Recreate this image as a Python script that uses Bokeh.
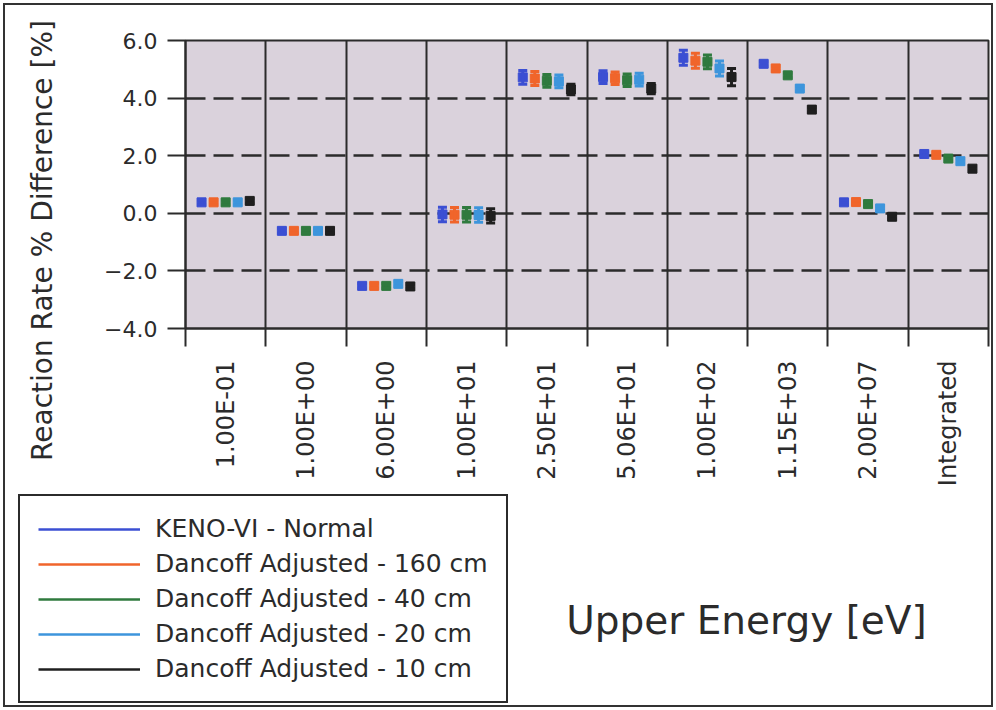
import math

from bokeh.embed import file_html
from bokeh.layouts import column, row
from bokeh.models import (ColumnDataSource, FixedTicker, Label, Legend,
                          LegendItem, TeeHead, Whisker)
from bokeh.plotting import figure
from bokeh.resources import INLINE

# Upper energy of each group (last entry: integrated over all energies)
categories = ["1.00E-01", "1.00E+00", "6.00E+00", "1.00E+01", "2.50E+01",
              "5.06E+01", "1.00E+02", "1.15E+03", "2.00E+07", "Integrated"]

series_names = ["KENO-VI - Normal", "Dancoff Adjusted - 160 cm",
                "Dancoff Adjusted - 40 cm", "Dancoff Adjusted - 20 cm",
                "Dancoff Adjusted - 10 cm"]

# Reaction rate % difference per energy group
keno_normal = [0.38, -0.61, -2.52, -0.04, 4.72, 4.73, 5.40, 5.19, 0.38, 2.06]
dancoff_160 = [0.38, -0.61, -2.52, -0.05, 4.68, 4.69, 5.30, 5.03, 0.39, 2.03]
dancoff_40 = [0.38, -0.61, -2.52, -0.05, 4.60, 4.62, 5.26, 4.79, 0.32, 1.90]
dancoff_20 = [0.38, -0.61, -2.45, -0.06, 4.58, 4.64, 5.03, 4.33, 0.17, 1.81]
dancoff_10 = [0.43, -0.61, -2.54, -0.09, 4.30, 4.33, 4.73, 3.60, -0.12, 1.55]

# One-sigma uncertainties (%)
keno_normal_err = [0.08, 0.08, 0.08, 0.25, 0.24, 0.22, 0.26, 0.08, 0.08, 0.08]
dancoff_160_err = [0.08, 0.08, 0.08, 0.25, 0.24, 0.22, 0.26, 0.08, 0.08, 0.08]
dancoff_40_err = [0.08, 0.08, 0.08, 0.25, 0.22, 0.22, 0.24, 0.08, 0.08, 0.08]
dancoff_20_err = [0.08, 0.08, 0.08, 0.25, 0.22, 0.22, 0.26, 0.08, 0.08, 0.08]
dancoff_10_err = [0.08, 0.08, 0.08, 0.25, 0.18, 0.18, 0.30, 0.08, 0.08, 0.08]

y_ticks = [-4, -2, 0, 2, 4, 6]
y_tick_labels = ["\u22124.0", "\u22122.0", "0.0", "2.0", "4.0", "6.0"]

series_values = [keno_normal, dancoff_160, dancoff_40, dancoff_20, dancoff_10]
series_errors = [keno_normal_err, dancoff_160_err, dancoff_40_err,
                 dancoff_20_err, dancoff_10_err]
colors = ["#3b4fd3", "#f0652b", "#2f7a3e", "#3d95dc", "#1f1f1f"]

FONT = "DejaVu Sans"
INK = "#2b2b2b"

# page grid: a narrow strip for the y title, the chart, and a bottom band
# holding the legend and the x title
W, H = 996, 710
LEFT_W = 70
TOP_H = 493
LEG_W = 520


def blank(width, height):
    """A figure whose frame fills it entirely and has no axes or grid."""
    f = figure(width=width, height=height, x_range=(0, width),
               y_range=(0, height), output_backend="svg",
               toolbar_location=None, title=None, min_border=0,
               x_axis_location=None, y_axis_location=None,
               outline_line_color=None, background_fill_alpha=0,
               border_fill_alpha=0, frame_align=False)
    f.grid.visible = False
    return f


n = len(categories)
centers = [i + 0.5 for i in range(n)]
bounds = list(range(n + 1))

p = figure(width=W - LEFT_W, height=TOP_H, x_range=(0, n),
           y_range=(y_ticks[0], y_ticks[-1]),
           output_backend="svg", toolbar_location=None, title=None,
           min_border_left=185 - LEFT_W, min_border_right=8, min_border_top=40,
           min_border_bottom=TOP_H - 328, frame_align=False,
           background_fill_color="#dad2dc", border_fill_alpha=0,
           outline_line_color=INK, outline_line_width=2)

# x axis: labels centred in each group, tick marks on the group boundaries
xa = p.xaxis[0]
xa.ticker = FixedTicker(ticks=centers, minor_ticks=bounds)
xa.major_label_overrides = {c: lab for c, lab in zip(centers, categories)}
xa.major_tick_out = 0
xa.major_tick_in = 0
xa.minor_tick_out = 18
xa.minor_tick_in = 0
xa.minor_tick_line_width = 2
xa.minor_tick_line_color = INK
xa.major_label_orientation = math.pi / 2
xa.major_label_standoff = 14
xa.major_label_text_font = FONT
xa.major_label_text_font_size = "24px"
xa.major_label_text_color = INK
xa.axis_line_color = INK
xa.axis_line_width = 2

ya = p.yaxis[0]
ya.ticker = FixedTicker(ticks=y_ticks, minor_ticks=[])
ya.major_label_overrides = {t: lab for t, lab in zip(y_ticks, y_tick_labels)}
ya.major_tick_out = 18
ya.major_tick_in = 0
ya.major_tick_line_width = 2
ya.major_tick_line_color = INK
ya.minor_tick_line_color = None
ya.major_label_standoff = 10
ya.major_label_text_font = FONT
ya.major_label_text_font_size = "22px"
ya.major_label_text_color = INK
ya.axis_line_color = INK
ya.axis_line_width = 2

p.xgrid.ticker = FixedTicker(ticks=bounds)
p.xgrid.grid_line_color = INK
p.xgrid.grid_line_width = 2
p.ygrid.grid_line_color = INK
p.ygrid.grid_line_width = 2.5
p.ygrid.grid_line_dash = "20 8"

offsets = [(k - (len(series_values) - 1) / 2) * 0.15 for k in range(len(series_values))]

for vals, errs, color, off in zip(series_values, series_errors, colors, offsets):
    src = ColumnDataSource(dict(
        x=[c + off for c in centers],
        y=vals,
        upper=[v + e for v, e in zip(vals, errs)],
        lower=[v - e for v, e in zip(vals, errs)],
    ))
    p.add_layout(Whisker(source=src, base="x", upper="upper", lower="lower",
                         line_color=color, line_width=3, level="glyph",
                         upper_head=TeeHead(size=9, line_color=color, line_width=3),
                         lower_head=TeeHead(size=9, line_color=color, line_width=3)))
    p.scatter("x", "y", source=src, marker="square", size=9,
              fill_color=color, line_color=color)

# y axis title
p_ytitle = blank(LEFT_W, TOP_H)
p_ytitle.add_layout(Label(x=42, y=TOP_H - 240,
                          text="Reaction Rate % Difference [%]", angle=math.pi / 2,
                          text_align="center", text_baseline="middle",
                          text_font=FONT, text_font_size="28px", text_color=INK))

# legend panel: each key is a hidden line through its series
p_leg = blank(LEG_W, H - TOP_H)
legend_items = []
for name, vals, color in zip(series_names, series_values, colors):
    key = p_leg.line(x=centers, y=vals, line_color=color, line_width=2.5,
                     visible=False)
    legend_items.append(LegendItem(label=name, renderers=[key]))
legend = Legend(items=legend_items, location=(18, 7),
                glyph_width=102, glyph_height=24, label_height=24,
                label_standoff=15, spacing=6, padding=18, margin=0,
                label_text_font=FONT, label_text_font_size="25px",
                label_text_color=INK, border_line_color=INK,
                border_line_alpha=1.0, border_line_width=2,
                background_fill_color="white", background_fill_alpha=1.0)
p_leg.add_layout(legend)

# x axis title
p_xtitle = blank(W - LEG_W, H - TOP_H)
p_xtitle.add_layout(Label(x=746 - LEG_W, y=H - 620, text="Upper Energy [eV]",
                          text_align="center", text_baseline="middle",
                          text_font=FONT, text_font_size="39px", text_color=INK))

page = column(row(p_ytitle, p), row(p_leg, p_xtitle))
page.styles = {"outline": "2px solid #333333", "outline-offset": "-5px"}

open("out.html", "w").write(file_html(page, INLINE))
